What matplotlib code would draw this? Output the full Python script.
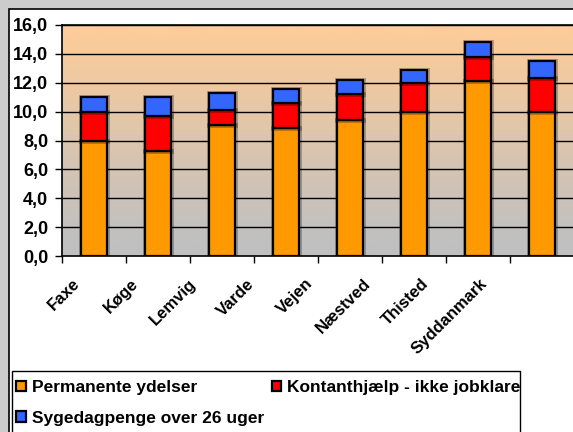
import numpy as np
import matplotlib.pyplot as plt
import matplotlib.patheffects as pe
from matplotlib.patches import Rectangle

plt.rcParams['font.family'] = ['Liberation Sans', 'DejaVu Sans']
plt.rcParams['font.weight'] = 'bold'

# data
kommuner = ['Faxe', 'Køge', 'Lemvig', 'Varde', 'Vejen', 'Næstved', 'Thisted', 'Syddanmark']
permanente = [8.0, 7.3, 9.1, 8.9, 9.4, 10.0, 12.1, 10.0]
kontant = [2.0, 2.4, 1.0, 1.7, 1.8, 2.0, 1.7, 2.3]
sygedag = [1.0, 1.3, 1.2, 1.0, 1.0, 0.9, 1.0, 1.2]
serier = ['Permanente ydelser', 'Kontanthjælp - ikke jobklare', 'Sygedagpenge over 26 uger']
farver = ['#FF9900', '#FF0000', '#3366FF']
yticks = np.arange(0, 16.1, 2)

W, H = 573, 432
fig = plt.figure(figsize=(W/100, H/100), dpi=100)
fig.patch.set_facecolor('#cccccc')

# white chart box
fig.add_artist(Rectangle((9/W, -0.1), 1.1, 1 - 9/H + 0.1, transform=fig.transFigure,
                         facecolor='white', edgecolor='black', lw=1.2, zorder=0))
# legend box
fig.add_artist(Rectangle((12/W, -0.1), 508/W, (432 - 371)/H + 0.1, transform=fig.transFigure,
                         facecolor='white', edgecolor='black', lw=1.0, zorder=1))

ax = fig.add_axes([62/W, 1 - 256/H, 512/W, 231/H])
x = np.arange(len(kommuner))

# gradient background
top = np.array([252, 204, 153]) / 255
bot = np.array([192, 192, 192]) / 255
t = np.linspace(0, 1, 256)[:, None]
grad = bot + (top - bot) * np.clip(t * 1.15 - 0.1, 0, 1)
ax.imshow(grad[:, None, :].repeat(2, axis=1), origin='lower', aspect='auto',
          extent=(-0.5, 7.5, 0, 16), zorder=0)

for yv in yticks[1:]:
    ax.axhline(yv, color='black', lw=1, zorder=1)

# soft halo around the bars like the Excel shadow
halo = [pe.Stroke(linewidth=3.6, foreground='black', alpha=0.25), pe.Normal()]
bunde = np.zeros(len(kommuner))
for vals, farve, navn in zip([permanente, kontant, sygedag], farver, serier):
    bars = ax.bar(x, vals, width=0.41, bottom=bunde, color=farve, edgecolor='black',
                  linewidth=1.6, label=navn, zorder=3)
    for b in bars:
        b.set_path_effects(halo)
    bunde += np.array(vals)

ax.set_xlim(-0.5, 7.5)
ax.set_ylim(0, 16)
ax.set_yticks(yticks)
ax.set_yticklabels([f'{v:.1f}'.replace('.', ',') for v in yticks], fontsize=13, fontweight='bold')
ax.tick_params(axis='y', length=5, width=1, pad=5)
ax.set_xticks(np.arange(-0.5, 8, 1))
ax.set_xticklabels([])
ax.tick_params(axis='x', length=5, width=1)
for s in ax.spines.values():
    s.set_linewidth(1.2)

# category labels (Excel puts them slightly tighter than the bars)
for i, navn in enumerate(kommuner):
    ax.annotate(navn, xy=(-0.34 + 0.908 * i, 0), xycoords=('data', 'axes fraction'),
                xytext=(0, -20), textcoords='offset pixels', rotation=45,
                ha='right', va='top', rotation_mode='anchor', fontsize=12,
                fontweight='bold', annotation_clip=False)

h, l = ax.get_legend_handles_labels()
order = [0, 2, 1]
leg = fig.legend([h[k] for k in order], [l[k] for k in order], ncol=2, loc='upper left',
                 bbox_to_anchor=(16/W, 1 - 380/H), frameon=False, fontsize=12.5,
                 handlelength=0.55, handleheight=0.55, handletextpad=0.35, columnspacing=0.45,
                 labelspacing=0.9, borderaxespad=0, borderpad=0)
for p in leg.get_patches():
    p.set_path_effects([])

fig.savefig('out.png', dpi=100, facecolor=fig.get_facecolor())
